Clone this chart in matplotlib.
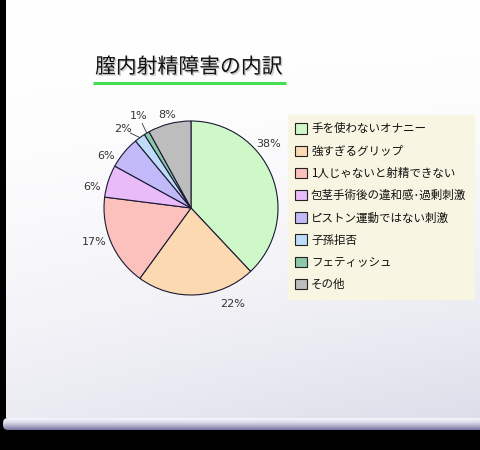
import numpy as np
import matplotlib
matplotlib.use("Agg")
import matplotlib.pyplot as plt
import matplotlib.patheffects as pe
from matplotlib.patches import FancyBboxPatch, Rectangle

plt.rcParams['font.family'] = ['Noto Sans CJK JP', 'DejaVu Sans']

# data
title = '膣内射精障害の内訳'
categories = ['手を使わないオナニー', '強すぎるグリップ', '1人じゃないと射精できない',
              '包茎手術後の違和感･過剰刺激', 'ピストン運動ではない刺激', '子孫拒否',
              'フェティッシュ', 'その他']
shares = [38, 22, 17, 6, 6, 2, 1, 8]
colors = ['#cff8c8', '#fdd9b2', '#fcc1bd', '#e9bbf8', '#c1b9f8', '#bedcf8',
          '#8cc9aa', '#bdbdbd']

# label placement tweaks (degrees added to the wedge middle, radius in pie units)
label_shift = [18, 20, -4, 6, 8, 5, -1, 0]
label_rad = [1.15, 1.2, 1.18, 1.16, 1.15, 1.2, 1.22, 1.1]

W, H = 480, 450
fig = plt.figure(figsize=(W / 100, H / 100), dpi=100)

# background board
bg = fig.add_axes([0, 0, 1, 1])
bg.set_xlim(0, W)
bg.set_ylim(H, 0)
bg.axis('off')
bg.add_patch(Rectangle((0, 0), W, H, color='black', zorder=0))
yy, xx = np.mgrid[0:1:200j, 0:1:200j]
t = np.clip(yy ** 2.0 * 0.6 + xx * yy ** 1.5 * 0.4, 0, 1)
white = np.array([1.0, 1.0, 1.0])
lav = np.array([0.87, 0.87, 0.92])
img = white[None, None, :] * (1 - t[..., None]) + lav[None, None, :] * t[..., None]
bg.imshow(img, extent=(6, W, 418, 0), aspect='auto', zorder=1)

# ledge at the bottom
ledge = FancyBboxPatch((3, 418), W + 5, 12, boxstyle='round,pad=0,rounding_size=5',
                       facecolor='none', edgecolor='none', zorder=2)
bg.add_patch(ledge)
v = np.linspace(0, 1, 50)[:, None]
top_c = np.array([0.96, 0.96, 0.99])
bot_c = np.array([0.45, 0.45, 0.62])
lg = top_c * (1 - v ** 1.5) + bot_c * v ** 1.5
lg = np.repeat(lg[:, None, :], 10, axis=1)
li = bg.imshow(lg, extent=(3, W + 8, 430, 418), aspect='auto', zorder=2)
li.set_clip_path(ledge)

# title with shadow and green underline
bg.text(95, 67, title, fontsize=15, color='#111111', va='center', ha='left', zorder=5,
        path_effects=[pe.withSimplePatchShadow(offset=(1, -1), shadow_rgbFace='#999999', alpha=0.5)])
bg.plot([93, 286], [83, 83], color='#44dd55', lw=2.2, zorder=5, solid_capstyle='butt')

# pie
cx, cy, r = 191, 208, 87
ax = fig.add_axes([(cx - r) / W, (H - cy - r) / H, 2 * r / W, 2 * r / H])
wedges, _ = ax.pie(shares, colors=colors, startangle=90, counterclock=False, radius=1,
                   wedgeprops=dict(edgecolor='#1a1a33', linewidth=0.8))
ax.set_xlim(-1, 1)
ax.set_ylim(-1, 1)
ax.axis('off')
for w, s, d, rr in zip(wedges, shares, label_shift, label_rad):
    mid = np.deg2rad((w.theta1 + w.theta2) / 2 + d)
    lx, ly = rr * np.cos(mid), rr * np.sin(mid)
    ax.text(lx, ly, f'{s}%', ha='center', va='center',
            fontsize=8, color='#333333', family=['DejaVu Sans'])
    if s <= 2:
        # short leader line from the wedge rim towards its label
        m0 = np.deg2rad((w.theta1 + w.theta2) / 2)
        x0, y0 = np.cos(m0), np.sin(m0)
        ax.plot([x0, x0 + (lx - x0) * 0.55], [y0, y0 + (ly - y0) * 0.55],
                color='#333333', lw=0.6, clip_on=False)

# legend
leg = fig.legend(wedges, categories, loc='upper left',
                 bbox_to_anchor=(288 / W, 1 - 115 / H), borderaxespad=0,
                 fontsize=8.3, frameon=True, fancybox=False, framealpha=1,
                 facecolor='#f8f6e2', edgecolor='#f8f6e2',
                 handlelength=1.0, handleheight=1.0, handletextpad=0.35,
                 labelspacing=0.8, borderpad=0.65)
for h in leg.legend_handles:
    h.set_edgecolor('#222222')
    h.set_linewidth(0.8)
for txt in leg.get_texts():
    txt.set_color('#111111')

fig.savefig('out.png', dpi=100)
